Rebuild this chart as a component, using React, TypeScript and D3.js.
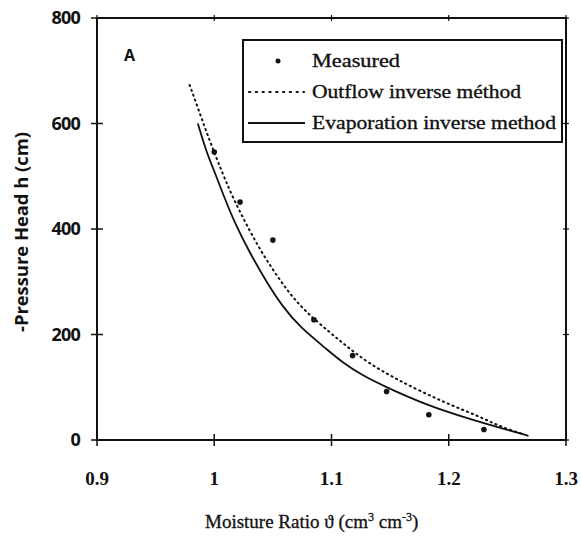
import React from "react";
import * as d3 from "d3";

const xTicks = [0.9, 1.0, 1.1, 1.2, 1.3];
const xTickLabels = ["0.9", "1", "1.1", "1.2", "1.3"];
const yTicks = [0, 200, 400, 600, 800];

const measuredX = [1.0, 1.022, 1.05, 1.085, 1.118, 1.147, 1.183, 1.23];
const measuredH = [546, 451, 379, 228, 160, 92, 48, 20];

const outflowX = [0.979, 0.9836, 0.9936, 1.003, 1.016, 1.0365, 1.049, 1.063, 1.077, 1.099, 1.114, 1.13, 1.156, 1.195, 1.227, 1.241, 1.262];
const outflowH = [673, 645, 582, 528, 457, 370, 326, 281, 245, 203, 176, 148, 114, 72, 44, 28, 12];

const evapX = [0.986, 0.993, 1.0, 1.0075, 1.0177, 1.0305, 1.045, 1.0586, 1.073, 1.096, 1.11, 1.126, 1.143, 1.181, 1.2207, 1.244, 1.268];
const evapH = [600, 548, 510, 466, 410, 354, 298, 252, 214, 172, 146, 123, 104, 66, 38, 23, 8];

const legendLabels = ["Measured", "Outflow inverse méthod", "Evaporation inverse method"];

export default function App() {
  const W = 581, H = 538;
  const x = d3.scaleLinear().domain([0.9, 1.3]).range([97, 566]);
  const y = d3.scaleLinear().domain([0, 800]).range([440, 18]);
  const line = d3
    .line<[number, number]>()
    .x((d) => x(d[0]))
    .y((d) => y(d[1]))
    .curve(d3.curveBasis);
  const outflow = outflowX.map((v, i) => [v, outflowH[i]] as [number, number]);
  const evap = evapX.map((v, i) => [v, evapH[i]] as [number, number]);
  const [x0, x1] = x.range();
  const [y0, y1] = y.range();
  const serif = "'Liberation Serif', 'Times New Roman', serif";
  const sans = "'Open Sans', 'DejaVu Sans', sans-serif";
  const tk = 6;
  const legendX = 243, legendY = 40, legendW = 319, legendH = 102;
  const rowY = [61, 92, 123];
  const textLens = [88, 209, 244];

  return (
    <svg width={W} height={H} style={{ position: "absolute", left: 0, top: 0, background: "#fff" }}>
      <rect x={0} y={0} width={W} height={H} fill="#fff" />
      {/* frame */}
      <rect x={x0} y={y1} width={x1 - x0} height={y0 - y1} fill="none" stroke="#111" strokeWidth={2} />
      {/* x ticks bottom & top */}
      {xTicks.map((t, i) => (
        <g key={"xt" + i}>
          <line x1={x(t)} x2={x(t)} y1={y0 - tk} y2={y0 + tk} stroke="#111" strokeWidth={1.5} />
          <line x1={x(t)} x2={x(t)} y1={y1 - 3} y2={y1 + 3} stroke="#111" strokeWidth={1.2} />
          <text x={x(t)} y={485} textAnchor="middle" fontFamily={serif} fontWeight="bold" fontSize={19} fill="#111">
            {xTickLabels[i]}
          </text>
        </g>
      ))}
      {/* y ticks left & right */}
      {yTicks.map((t, i) => (
        <g key={"yt" + i}>
          <line x1={x0 - tk} x2={x0 + tk} y1={y(t)} y2={y(t)} stroke="#111" strokeWidth={1.5} />
          <line x1={x1 - 3} x2={x1 + 3} y1={y(t)} y2={y(t)} stroke="#111" strokeWidth={1.2} />
          <text x={80} y={y(t)} dy="0.36em" textAnchor="end" fontFamily={sans} fontWeight="bold" fontSize={18} letterSpacing={-0.8} fill="#111">
            {t}
          </text>
        </g>
      ))}
      {/* curves */}
      <path d={line(outflow) || ""} fill="none" stroke="#111" strokeWidth={2} strokeDasharray="1.2,4" strokeLinecap="round" />
      <path d={line(evap) || ""} fill="none" stroke="#111" strokeWidth={1.8} />
      {measuredX.map((v, i) => (
        <circle key={"m" + i} cx={x(v)} cy={y(measuredH[i])} r={2.8} fill="#111" />
      ))}
      {/* panel label */}
      <text x={124} y={61} fontFamily={sans} fontWeight="bold" fontSize={16} fill="#111">A</text>
      {/* legend */}
      <rect x={legendX} y={legendY} width={legendW} height={legendH} fill="#fff" stroke="#111" strokeWidth={2} />
      <circle cx={278} cy={rowY[0]} r={2.5} fill="#111" />
      <line x1={249} x2={304} y1={rowY[1]} y2={rowY[1]} stroke="#111" strokeWidth={2.2} strokeDasharray="1.2,5.6" strokeLinecap="round" />
      <line x1={248} x2={305} y1={rowY[2]} y2={rowY[2]} stroke="#111" strokeWidth={1.8} />
      {legendLabels.map((l, i) => (
        <text key={"l" + i} x={312} y={rowY[i] + 6} fontFamily={serif} fontSize={19} fill="#111" stroke="#111" strokeWidth={0.35} textLength={textLens[i]} lengthAdjust="spacingAndGlyphs">
          {l}
        </text>
      ))}
      {/* axis titles */}
      <text
        transform={`translate(28,232) rotate(-90)`}
        textAnchor="middle"
        fontFamily={sans}
        fontWeight="bold"
        fontSize={17}
        fill="#111"
        textLength={200}
        lengthAdjust="spacingAndGlyphs"
      >
        -Pressure Head h (cm)
      </text>
      <text x={205} y={528} fontFamily={serif} fontSize={19} fill="#111" stroke="#111" strokeWidth={0.3}>
        Moisture Ratio ϑ (cm<tspan dy={-7} fontSize={12}>3</tspan>
        <tspan dy={7}> cm</tspan>
        <tspan dy={-7} fontSize={12}>-3</tspan>
        <tspan dy={7}>)</tspan>
      </text>
    </svg>
  );
}
